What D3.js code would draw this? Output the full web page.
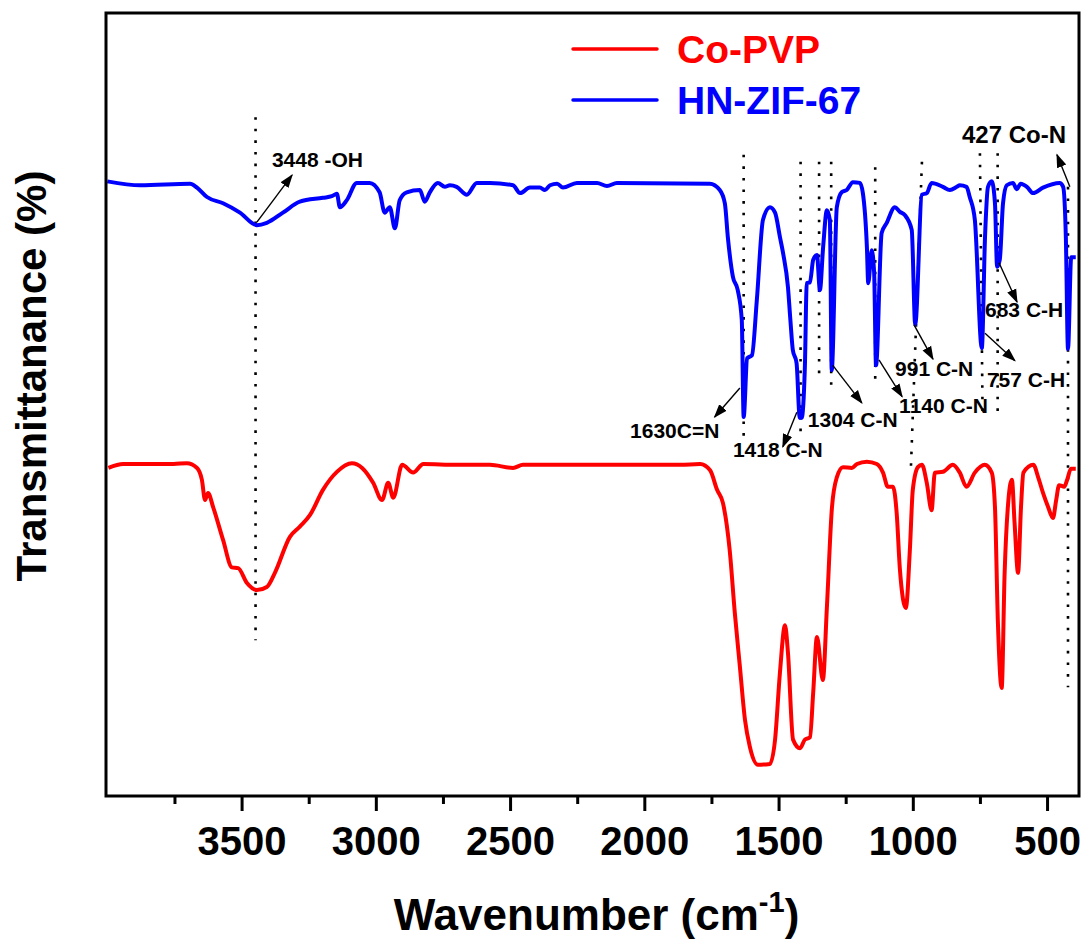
<!DOCTYPE html>
<html>
<head>
<meta charset="utf-8">
<script src="https://cdn.jsdelivr.net/npm/d3@7"></script>
<style>
  body { margin: 0; background: #fff; }
  text { font-family: "Liberation Sans", Arial, sans-serif; font-weight: bold; }
</style>
</head>
<body>
<div id="visualization"></div>
<script>
// FTIR spectra, [wavenumber (cm-1), transmittance (a.u.)]
const hnZif67 = [[4000,78.5],[3877,78.0],[3692,78.2],[3666,77.7],[3629,76.5],[3569,75.7],[3506,74.5],[3443,72.9],[3406,73.2],[3346,74.5],[3283,75.9],[3197,76.4],[3164,76.6],[3145,76.9],[3134,75.2],[3108,76.1],[3071,78.3],[3023,78.3],[2986,77.1],[2967,74.5],[2948,75.2],[2929,72.5],[2911,76.1],[2885,77.1],[2836,77.4],[2818,75.9],[2799,77.1],[2769,78.3],[2743,77.8],[2724,78.0],[2699,77.8],[2661,76.8],[2624,78.3],[2575,78.3],[2489,78.0],[2463,77.0],[2426,77.7],[2389,77.7],[2370,77.4],[2351,78.0],[2325,78.2],[2303,77.7],[2251,78.3],[2176,78.3],[2139,77.9],[2102,78.3],[1756,78.2],[1719,77.4],[1700,75.7],[1689,71.4],[1670,66.3],[1652,64.6],[1637,60.8],[1630,48.4],[1617,55.9],[1599,56.3],[1581,63.3],[1558,73.6],[1532,75.2],[1513,74.5],[1495,71.4],[1483,69.3],[1465,65.0],[1456,60.8],[1447,57.0],[1433,55.3],[1421,48.3],[1414,48.3],[1402,54.8],[1395,65.5],[1383,65.6],[1371,68.5],[1357,69.1],[1346,64.6],[1334,70.1],[1320,74.8],[1309,73.6],[1302,54.4],[1283,75.2],[1265,77.1],[1246,77.4],[1223,78.4],[1197,78.3],[1186,77.0],[1171,70.1],[1166,65.5],[1153,69.7],[1144,66.8],[1137,55.0],[1116,71.9],[1097,73.2],[1067,75.2],[1048,74.6],[1030,74.2],[1004,72.3],[991,60.2],[966,76.8],[948,77.0],[930,78.3],[888,77.8],[862,77.4],[836,77.8],[825,78.0],[800,77.8],[788,76.5],[769,73.6],[743,57.2],[731,71.4],[720,77.8],[706,78.5],[694,75.7],[686,67.6],[676,68.5],[664,75.7],[650,78.0],[627,78.3],[613,77.5],[598,78.2],[575,77.8],[552,77.0],[515,77.7],[453,78.3],[440,77.8],[430,71.4],[422,57.1],[410,68.8],[393,68.8]];

const coPvp = [[3996,41.9],[3941,42.4],[3754,42.4],[3704,42.5],[3666,41.9],[3648,40.4],[3636,37.8],[3625,38.7],[3606,36.9],[3569,32.7],[3536,29.2],[3513,29.1],[3480,27.2],[3443,26.3],[3406,26.7],[3376,28.5],[3320,33.1],[3283,34.4],[3245,35.9],[3197,39.1],[3145,41.4],[3089,42.5],[3051,41.9],[3010,40.0],[2977,37.8],[2954,40.0],[2935,38.1],[2902,42.3],[2861,41.3],[2823,42.4],[2699,42.3],[2575,42.3],[2489,41.9],[2452,42.3],[2203,42.3],[1867,42.3],[1792,42.4],[1755,41.6],[1729,39.1],[1707,37.4],[1682,31.4],[1663,23.4],[1644,16.5],[1625,9.7],[1607,6.3],[1577,4.0],[1532,4.1],[1513,7.2],[1495,15.7],[1476,21.8],[1465,18.3],[1446,7.2],[1420,6.1],[1402,7.2],[1383,7.5],[1371,13.2],[1357,20.3],[1335,14.8],[1320,24.1],[1301,36.9],[1283,40.7],[1260,42.0],[1227,41.9],[1208,42.4],[1171,42.7],[1134,42.4],[1111,41.3],[1093,39.5],[1074,39.5],[1060,36.1],[1048,28.9],[1026,24.0],[1011,31.4],[1000,39.1],[981,42.0],[966,42.3],[948,40.0],[930,36.5],[918,41.3],[888,41.4],[851,42.3],[825,41.3],[800,39.5],[769,41.3],[732,42.3],[706,41.3],[694,36.9],[683,22.1],[669,13.8],[658,28.5],[646,36.9],[631,40.4],[621,34.9],[608,28.5],[597,36.9],[588,41.3],[551,42.3],[533,40.7],[515,38.7],[496,36.9],[478,35.5],[466,37.8],[455,39.7],[436,39.5],[425,40.4],[411,41.8],[393,41.8]];

const series = [
    { name: "Co-PVP", color: "#ff0000", values: coPvp },
    { name: "HN-ZIF-67", color: "#0000ff", values: hnZif67 }
];

const majorTicks = [3500, 3000, 2500, 2000, 1500, 1000, 500];
const minorTicks = [3750, 3250, 2750, 2250, 1750, 1250, 750];

// dotted guide lines: [wavenumber top, T top, wavenumber bottom, T bottom]
const guideLines = [
    [3448, 86.7, 3448, 19.9],
    [1630, 81.9, 1630, 45.5],
    [1418, 81.0, 1418, 45.7],
    [1349, 81.0, 1349, 53.1],
    [1304, 81.0, 1304, 51.9],
    [1140, 80.3, 1140, 52.7],
    [966, 81.0, 1007, 42.0],
    [750, 82.1, 740, 48.4],
    [684, 82.1, 684, 48.7],
    [422, 77.8, 422, 13.9]
];

// peak labels: text, [wavenumber, T] of label start, arrow from, arrow to, font size
const peakLabels = [
    { text: "3448 -OH", at: [3387, 80.3], from: [3443, 73.3], to: [3312, 79.3], size: 21 },
    { text: "1630C=N", at: [2053, 45.7], from: [1644, 52.1], to: [1738, 48.4], size: 21 },
    { text: "1418 C-N", at: [1670, 43.3], from: [1432, 49.0], to: [1484, 44.6], size: 21 },
    { text: "1304 C-N", at: [1391, 47.1], from: [1298, 55.0], to: [1190, 50.2], size: 21 },
    { text: "1140 C-N", at: [1051, 48.9], from: [1126, 55.7], to: [1040, 51.0], size: 21 },
    { text: "991 C-N", at: [1066, 53.6], from: [996, 60.2], to: [925, 55.8], size: 21 },
    { text: "757 C-H", at: [724, 52.2], from: [731, 59.1], to: [620, 55.6], size: 21 },
    { text: "683 C-H", at: [731, 61.2], from: [679, 68.1], to: [612, 63.1], size: 21 },
    { text: "427 Co-N", at: [817, 83.4], from: [415, 77.8], to: [463, 81.9], size: 24 }
];

const width = 1089;
const height = 951;
const margin = { top: 13, right: 10, bottom: 155, left: 106 };

const x = d3.scaleLinear().domain([4005, 381]).range([margin.left, width - margin.right]);
const y = d3.scaleLinear().domain([0, 100]).range([height - margin.bottom, margin.top]);

const svg = d3.create("svg")
    .attr("width", width)
    .attr("height", height)
    .attr("viewBox", [0, 0, width, height]);

svg.append("defs").append("marker")
    .attr("id", "head")
    .attr("viewBox", "0 0 10 10")
    .attr("refX", 9).attr("refY", 5)
    .attr("markerUnits", "userSpaceOnUse")
    .attr("markerWidth", 14).attr("markerHeight", 14)
    .attr("orient", "auto")
    .append("path")
    .attr("d", "M0,1.5 L10,5 L0,8.5 Z")
    .attr("fill", "#000");

// guide lines
svg.append("g")
    .attr("stroke", "#000")
    .attr("stroke-width", 2.6)
    .attr("stroke-dasharray", "2.6 9")
    .selectAll("line")
    .data(guideLines)
    .join("line")
    .attr("x1", d => x(d[0])).attr("y1", d => y(d[1]))
    .attr("x2", d => x(d[2])).attr("y2", d => y(d[3]));

// spectra
const line = d3.line()
    .x(d => x(d[0]))
    .y(d => y(d[1]))
    .curve(d3.curveMonotoneX);

svg.append("g")
    .selectAll("path")
    .data(series)
    .join("path")
    .attr("fill", "none")
    .attr("stroke", d => d.color)
    .attr("stroke-width", 4)
    .attr("stroke-linejoin", "round")
    .attr("d", d => line(d.values));

// peak labels and arrows
const ann = svg.append("g");
ann.selectAll("line")
    .data(peakLabels)
    .join("line")
    .attr("x1", d => x(d.from[0])).attr("y1", d => y(d.from[1]))
    .attr("x2", d => x(d.to[0])).attr("y2", d => y(d.to[1]))
    .attr("stroke", "#000")
    .attr("stroke-width", 1.4)
    .attr("marker-end", "url(#head)");
ann.selectAll("text")
    .data(peakLabels)
    .join("text")
    .attr("x", d => x(d.at[0]))
    .attr("y", d => y(d.at[1]))
    .attr("font-size", d => d.size)
    .attr("fill", "#000")
    .text(d => d.text);

// x axis
const xAxis = svg.append("g")
    .attr("transform", `translate(0,${height - margin.bottom})`);
xAxis.call(d3.axisBottom(x).tickValues(majorTicks).tickSize(15).tickPadding(16).tickFormat(d3.format("d")))
    .call(g => g.select(".domain").remove())
    .call(g => g.selectAll(".tick line").attr("stroke-width", 3))
    .call(g => g.selectAll(".tick text")
        .attr("font-size", 40)
        .attr("font-family", "'Liberation Sans', Arial, sans-serif")
        .attr("font-weight", "bold")
        .attr("fill", "#000"));
xAxis.append("g")
    .call(d3.axisBottom(x).tickValues(minorTicks).tickSize(8).tickFormat(""))
    .call(g => g.select(".domain").remove())
    .call(g => g.selectAll(".tick line").attr("stroke-width", 3));

// frame
svg.append("rect")
    .attr("x", margin.left)
    .attr("y", margin.top)
    .attr("width", width - margin.left - margin.right)
    .attr("height", height - margin.top - margin.bottom)
    .attr("fill", "none")
    .attr("stroke", "#000")
    .attr("stroke-width", 3);

// axis titles
const xTitle = svg.append("text")
    .attr("x", (margin.left + width - margin.right) / 2 + 4)
    .attr("y", 930)
    .attr("text-anchor", "middle")
    .attr("font-size", 44)
    .attr("fill", "#000");
xTitle.append("tspan").text("Wavenumber (cm");
xTitle.append("tspan").attr("font-size", 29).attr("dy", -18).text("-1");
xTitle.append("tspan").attr("dy", 18).text(")");

svg.append("text")
    .attr("transform", "translate(46,376) rotate(-90)")
    .attr("text-anchor", "middle")
    .attr("font-size", 42)
    .attr("fill", "#000")
    .text("Transmittanance (%)");

// legend
const legend = svg.append("g")
    .selectAll("g")
    .data(series)
    .join("g")
    .attr("transform", (d, i) => `translate(573,${49 + i * 51})`);
legend.append("line")
    .attr("x1", 0).attr("x2", 84)
    .attr("stroke", d => d.color)
    .attr("stroke-width", 3.5)
    .attr("stroke-linecap", "round");
legend.append("text")
    .attr("x", 104)
    .attr("y", 14)
    .attr("font-size", 39)
    .attr("fill", d => d.color)
    .text(d => d.name);

document.getElementById("visualization").appendChild(svg.node());
</script>
</body>
</html>
